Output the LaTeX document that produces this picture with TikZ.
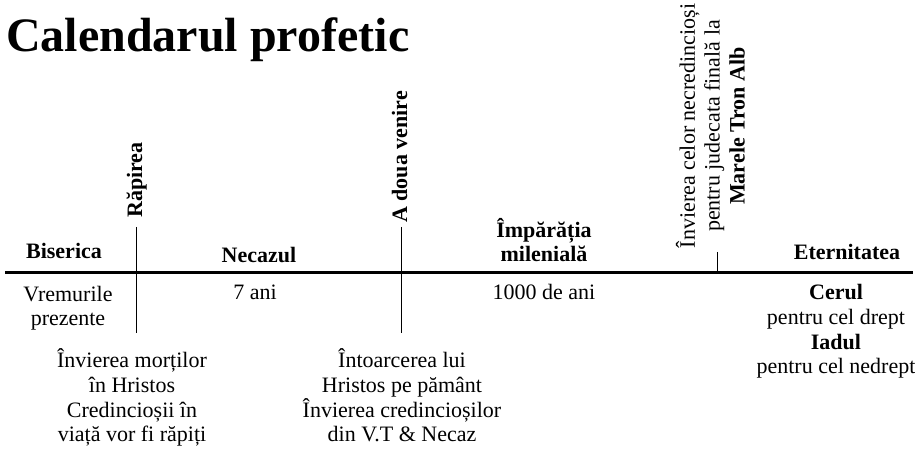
\documentclass[tikz,border=0pt]{standalone}
\usepackage{fontspec}
\setmainfont{Liberation Serif}
\begin{document}
\begin{tikzpicture}[x=0.75pt,y=-0.75pt,
  txt/.style={font=\fontsize{16.5}{18.6}\selectfont, inner sep=0pt, align=center},
  btxt/.style={txt, font=\fontsize{16.5}{18.6}\selectfont\bfseries},
  axisline/.style={line width=2.25pt},
  tickline/.style={line width=0.75pt}]
\useasboundingbox (0,0) rectangle (915,452);
% title
\node[anchor=base west, inner sep=0pt, font=\fontsize{36}{40}\selectfont\bfseries] (title) at (6,52) {Calendarul profetic};
% axis and ticks
\coordinate (a0) at (5,273);
\coordinate (a1) at (913,273);
\draw[axisline] (a0) -- (a1);
\coordinate (r1) at (136,227);
\coordinate (r2) at (136,333);
\draw[tickline] (r1) -- (r2);
\coordinate (v1) at (401,227);
\coordinate (v2) at (401,333);
\draw[tickline] (v1) -- (v2);
\coordinate (m1) at (717,252);
\coordinate (m2) at (717,273);
\draw[tickline] (m1) -- (m2);
% rotated event labels
\node[btxt, rotate=90, anchor=base] (rapirea) at (142,180) {Răpirea};
\node[btxt, rotate=90, anchor=base] (venire) at (407,157) {A doua venire};
\node[txt, rotate=90, anchor=south] (tron) at (745,126) {Învierea celor necredincioși\\pentru judecata finală la\\\textbf{Marele Tron Alb}};
% period labels
\node[btxt, anchor=base] (biserica) at (64,259) {Biserica};
\node[btxt, anchor=base] (necazul) at (259,263) {Necazul};
\node[btxt, anchor=base] (imparatia) at (544,262) {Împărăția\\milenială};
\node[btxt, anchor=base] (eternitatea) at (847,260) {Eternitatea};
% durations
\node[txt, anchor=base] (vremurile) at (68,326) {Vremurile\\prezente};
\node[txt, anchor=base] (sapte) at (255,300) {7 ani};
\node[txt, anchor=base] (mie) at (544,300) {1000 de ani};
\node[txt, anchor=base] (cerul) at (836,374) {\textbf{Cerul}\\pentru cel drept\\\textbf{Iadul}\\pentru cel nedrept};
% events below
\node[txt, anchor=base] (inviere) at (132,442) {Învierea morților\\în Hristos\\Credincioșii în\\viață vor fi răpiți};
\node[txt, anchor=base] (intoarcere) at (402,442) {Întoarcerea lui\\Hristos pe pământ\\Învierea credincioșilor\\din V.T \& Necaz};
\end{tikzpicture}
\end{document}
